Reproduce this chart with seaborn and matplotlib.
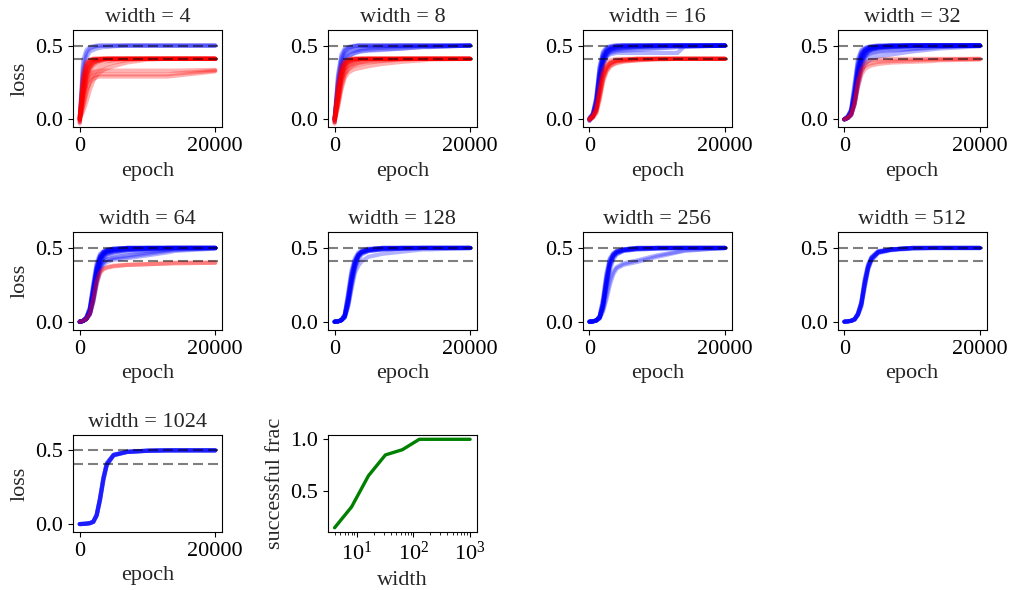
import matplotlib
matplotlib.use("Agg")
import pandas as pd
import matplotlib.pyplot as plt
import seaborn as sns

sns.set_style("ticks", rc={
    "axes.edgecolor": "black",
    "xtick.color": "black",
    "ytick.color": "black",
    "axes.linewidth": 1.0,
})
plt.rcParams["font.family"] = ["Liberation Serif", "DejaVu Serif"]
plt.rcParams["mathtext.fontset"] = "stix"
plt.rcParams["font.size"] = 16

EPOCHS = [0, 500, 1000, 1500, 2000, 2500, 3000, 3500, 4000, 5000, 7000, 10000, 13000, 14000, 20000]

WIDTHS = [4, 8, 16, 32, 64, 128, 256, 512, 1024]
SUCCESS_FRAC = [0.15, 0.35, 0.65, 0.85, 0.90, 1.0, 1.0, 1.0, 1.0]

LOSS_GOOD = 0.5
LOSS_BAD = 0.41

# width = 4
blue_4 = [
    [0.00, 0.40, 0.47, 0.49, 0.495, 0.50, 0.50, 0.50, 0.50, 0.50, 0.50, 0.50, 0.50, 0.50, 0.50],
    [-0.02, 0.35, 0.45, 0.48, 0.49, 0.495, 0.50, 0.50, 0.50, 0.50, 0.50, 0.50, 0.50, 0.50, 0.50],
    [0.01, 0.30, 0.42, 0.46, 0.47, 0.48, 0.485, 0.49, 0.49, 0.495, 0.50, 0.50, 0.50, 0.50, 0.50],
]
red_4 = [
    [0.00, 0.30, 0.39, 0.405, 0.41, 0.41, 0.41, 0.41, 0.41, 0.41, 0.41, 0.41, 0.41, 0.41, 0.41],
    [-0.01, 0.26, 0.37, 0.40, 0.41, 0.41, 0.41, 0.41, 0.41, 0.41, 0.41, 0.41, 0.41, 0.41, 0.41],
    [0.01, 0.22, 0.35, 0.39, 0.40, 0.405, 0.41, 0.41, 0.41, 0.41, 0.41, 0.41, 0.41, 0.41, 0.41],
    [0.00, 0.20, 0.32, 0.37, 0.39, 0.40, 0.405, 0.41, 0.41, 0.41, 0.41, 0.41, 0.41, 0.41, 0.41],
    [-0.03, 0.18, 0.30, 0.36, 0.385, 0.395, 0.40, 0.405, 0.41, 0.41, 0.41, 0.41, 0.41, 0.41, 0.41],
    [0.02, 0.25, 0.34, 0.38, 0.395, 0.40, 0.405, 0.41, 0.41, 0.41, 0.41, 0.41, 0.41, 0.41, 0.41],
    [0.00, 0.15, 0.28, 0.34, 0.37, 0.385, 0.395, 0.40, 0.405, 0.41, 0.41, 0.41, 0.41, 0.41, 0.41],
    [-0.02, 0.12, 0.25, 0.32, 0.355, 0.37, 0.38, 0.39, 0.395, 0.40, 0.41, 0.41, 0.41, 0.41, 0.41],
    [0.00, 0.08, 0.18, 0.26, 0.31, 0.335, 0.35, 0.36, 0.37, 0.385, 0.40, 0.41, 0.41, 0.41, 0.41],
    [0.01, 0.05, 0.12, 0.20, 0.26, 0.30, 0.32, 0.335, 0.345, 0.36, 0.385, 0.405, 0.41, 0.41, 0.41],
    [0.00, 0.10, 0.20, 0.25, 0.275, 0.285, 0.29, 0.29, 0.29, 0.29, 0.29, 0.29, 0.29, 0.295, 0.325],
    [0.01, 0.15, 0.24, 0.28, 0.295, 0.30, 0.305, 0.305, 0.305, 0.305, 0.305, 0.305, 0.305, 0.31, 0.33],
    [0.00, 0.18, 0.28, 0.31, 0.32, 0.325, 0.33, 0.33, 0.33, 0.33, 0.33, 0.33, 0.33, 0.33, 0.335],
    [0.00, 0.28, 0.38, 0.40, 0.41, 0.41, 0.41, 0.41, 0.41, 0.41, 0.41, 0.41, 0.41, 0.41, 0.41],
    [-0.01, 0.24, 0.36, 0.395, 0.405, 0.41, 0.41, 0.41, 0.41, 0.41, 0.41, 0.41, 0.41, 0.41, 0.41],
    [0.00, 0.16, 0.29, 0.35, 0.38, 0.395, 0.40, 0.405, 0.41, 0.41, 0.41, 0.41, 0.41, 0.41, 0.41],
    [0.02, 0.20, 0.31, 0.36, 0.385, 0.395, 0.40, 0.41, 0.41, 0.41, 0.41, 0.41, 0.41, 0.41, 0.41],
]

# width = 8
blue_8 = [
    [0.00, 0.30, 0.44, 0.48, 0.49, 0.495, 0.50, 0.50, 0.50, 0.50, 0.50, 0.50, 0.50, 0.50, 0.50],
    [-0.01, 0.25, 0.40, 0.46, 0.48, 0.49, 0.495, 0.50, 0.50, 0.50, 0.50, 0.50, 0.50, 0.50, 0.50],
    [0.00, 0.22, 0.38, 0.44, 0.46, 0.47, 0.475, 0.48, 0.485, 0.49, 0.495, 0.50, 0.50, 0.50, 0.50],
    [0.01, 0.20, 0.35, 0.42, 0.45, 0.46, 0.465, 0.47, 0.475, 0.48, 0.485, 0.49, 0.495, 0.495, 0.50],
    [0.00, 0.18, 0.33, 0.40, 0.43, 0.44, 0.45, 0.455, 0.46, 0.465, 0.47, 0.48, 0.49, 0.49, 0.50],
    [-0.02, 0.28, 0.42, 0.47, 0.485, 0.49, 0.495, 0.50, 0.50, 0.50, 0.50, 0.50, 0.50, 0.50, 0.50],
    [0.00, 0.15, 0.30, 0.38, 0.42, 0.44, 0.45, 0.46, 0.465, 0.47, 0.475, 0.48, 0.49, 0.49, 0.50],
]
red_8 = [
    [0.00, 0.22, 0.35, 0.39, 0.405, 0.41, 0.41, 0.41, 0.41, 0.41, 0.41, 0.41, 0.41, 0.41, 0.41],
    [-0.02, 0.18, 0.32, 0.38, 0.40, 0.405, 0.41, 0.41, 0.41, 0.41, 0.41, 0.41, 0.41, 0.41, 0.41],
    [0.00, 0.15, 0.30, 0.36, 0.39, 0.40, 0.405, 0.41, 0.41, 0.41, 0.41, 0.41, 0.41, 0.41, 0.41],
    [-0.03, 0.12, 0.27, 0.34, 0.37, 0.385, 0.395, 0.40, 0.405, 0.41, 0.41, 0.41, 0.41, 0.41, 0.41],
    [0.01, 0.20, 0.33, 0.38, 0.40, 0.41, 0.41, 0.41, 0.41, 0.41, 0.41, 0.41, 0.41, 0.41, 0.41],
    [0.00, 0.10, 0.24, 0.31, 0.34, 0.355, 0.365, 0.37, 0.375, 0.385, 0.395, 0.405, 0.41, 0.41, 0.41],
    [-0.01, 0.08, 0.20, 0.28, 0.315, 0.33, 0.34, 0.345, 0.35, 0.36, 0.375, 0.39, 0.40, 0.405, 0.41],
    [0.00, 0.14, 0.28, 0.35, 0.38, 0.39, 0.40, 0.405, 0.41, 0.41, 0.41, 0.41, 0.41, 0.41, 0.41],
    [-0.02, 0.16, 0.30, 0.36, 0.385, 0.395, 0.40, 0.405, 0.41, 0.41, 0.41, 0.41, 0.41, 0.41, 0.41],
    [0.00, 0.12, 0.26, 0.33, 0.36, 0.37, 0.38, 0.385, 0.39, 0.40, 0.405, 0.41, 0.41, 0.41, 0.41],
    [0.01, 0.24, 0.36, 0.395, 0.405, 0.41, 0.41, 0.41, 0.41, 0.41, 0.41, 0.41, 0.41, 0.41, 0.41],
    [0.00, 0.18, 0.31, 0.37, 0.39, 0.40, 0.41, 0.41, 0.41, 0.41, 0.41, 0.41, 0.41, 0.41, 0.41],
    [-0.01, 0.10, 0.22, 0.30, 0.34, 0.36, 0.37, 0.38, 0.385, 0.39, 0.40, 0.41, 0.41, 0.41, 0.41],
]

# width = 16
blue_16 = [
    [0.00, 0.03, 0.12, 0.32, 0.43, 0.47, 0.485, 0.49, 0.495, 0.50, 0.50, 0.50, 0.50, 0.50, 0.50],
    [0.00, 0.02, 0.10, 0.28, 0.40, 0.45, 0.47, 0.48, 0.485, 0.49, 0.495, 0.50, 0.50, 0.50, 0.50],
    [-0.01, 0.02, 0.08, 0.25, 0.38, 0.44, 0.46, 0.47, 0.475, 0.48, 0.49, 0.495, 0.50, 0.50, 0.50],
    [0.00, 0.03, 0.11, 0.30, 0.42, 0.46, 0.475, 0.48, 0.485, 0.49, 0.495, 0.50, 0.50, 0.50, 0.50],
    [0.00, 0.02, 0.09, 0.27, 0.39, 0.43, 0.45, 0.455, 0.46, 0.465, 0.47, 0.48, 0.49, 0.49, 0.50],
    [0.01, 0.04, 0.14, 0.35, 0.45, 0.48, 0.49, 0.495, 0.50, 0.50, 0.50, 0.50, 0.50, 0.50, 0.50],
    [0.00, 0.02, 0.07, 0.22, 0.36, 0.42, 0.44, 0.445, 0.45, 0.45, 0.45, 0.45, 0.45, 0.495, 0.50],
    [0.00, 0.03, 0.13, 0.33, 0.44, 0.475, 0.49, 0.495, 0.50, 0.50, 0.50, 0.50, 0.50, 0.50, 0.50],
    [-0.01, 0.02, 0.09, 0.26, 0.39, 0.45, 0.47, 0.48, 0.49, 0.495, 0.50, 0.50, 0.50, 0.50, 0.50],
    [0.00, 0.02, 0.08, 0.24, 0.37, 0.43, 0.455, 0.465, 0.47, 0.475, 0.48, 0.485, 0.49, 0.495, 0.50],
    [0.00, 0.03, 0.12, 0.31, 0.42, 0.46, 0.48, 0.49, 0.495, 0.50, 0.50, 0.50, 0.50, 0.50, 0.50],
    [0.01, 0.03, 0.10, 0.29, 0.41, 0.455, 0.47, 0.475, 0.48, 0.485, 0.49, 0.495, 0.50, 0.50, 0.50],
    [0.00, 0.04, 0.15, 0.36, 0.46, 0.485, 0.495, 0.50, 0.50, 0.50, 0.50, 0.50, 0.50, 0.50, 0.50],
]
red_16 = [
    [0.00, 0.02, 0.07, 0.20, 0.31, 0.36, 0.385, 0.395, 0.40, 0.405, 0.41, 0.41, 0.41, 0.41, 0.41],
    [0.00, 0.01, 0.05, 0.16, 0.28, 0.34, 0.37, 0.385, 0.395, 0.40, 0.41, 0.41, 0.41, 0.41, 0.41],
    [-0.01, 0.02, 0.06, 0.18, 0.30, 0.35, 0.38, 0.39, 0.40, 0.405, 0.41, 0.41, 0.41, 0.41, 0.41],
    [0.00, 0.01, 0.04, 0.13, 0.25, 0.32, 0.355, 0.37, 0.38, 0.39, 0.40, 0.405, 0.41, 0.41, 0.41],
    [0.00, 0.03, 0.09, 0.24, 0.34, 0.38, 0.40, 0.405, 0.41, 0.41, 0.41, 0.41, 0.41, 0.41, 0.41],
    [0.01, 0.02, 0.06, 0.17, 0.29, 0.35, 0.375, 0.39, 0.395, 0.40, 0.405, 0.41, 0.41, 0.41, 0.41],
    [0.00, 0.02, 0.05, 0.15, 0.27, 0.33, 0.36, 0.375, 0.385, 0.395, 0.40, 0.41, 0.41, 0.41, 0.41],
]

# width = 32
blue_32 = [
    [0.00, 0.01, 0.05, 0.18, 0.36, 0.44, 0.47, 0.485, 0.49, 0.495, 0.50, 0.50, 0.50, 0.50, 0.50],
    [0.00, 0.01, 0.04, 0.14, 0.30, 0.40, 0.45, 0.47, 0.48, 0.49, 0.50, 0.50, 0.50, 0.50, 0.50],
    [0.00, 0.01, 0.03, 0.10, 0.24, 0.36, 0.42, 0.455, 0.47, 0.485, 0.495, 0.50, 0.50, 0.50, 0.50],
    [0.00, 0.01, 0.06, 0.22, 0.39, 0.46, 0.48, 0.49, 0.495, 0.50, 0.50, 0.50, 0.50, 0.50, 0.50],
    [0.00, 0.01, 0.03, 0.10, 0.22, 0.32, 0.37, 0.395, 0.41, 0.425, 0.44, 0.46, 0.475, 0.48, 0.495],
    [0.00, 0.01, 0.04, 0.13, 0.28, 0.38, 0.42, 0.44, 0.45, 0.46, 0.47, 0.48, 0.49, 0.49, 0.50],
    [0.00, 0.01, 0.05, 0.16, 0.33, 0.42, 0.46, 0.475, 0.485, 0.49, 0.495, 0.50, 0.50, 0.50, 0.50],
    [0.00, 0.02, 0.06, 0.20, 0.37, 0.45, 0.475, 0.485, 0.49, 0.495, 0.50, 0.50, 0.50, 0.50, 0.50],
    [0.00, 0.01, 0.04, 0.15, 0.31, 0.41, 0.455, 0.47, 0.48, 0.49, 0.495, 0.50, 0.50, 0.50, 0.50],
    [0.00, 0.01, 0.03, 0.12, 0.27, 0.38, 0.43, 0.46, 0.475, 0.485, 0.495, 0.50, 0.50, 0.50, 0.50],
    [0.00, 0.02, 0.07, 0.24, 0.41, 0.47, 0.485, 0.49, 0.495, 0.50, 0.50, 0.50, 0.50, 0.50, 0.50],
    [0.00, 0.01, 0.05, 0.17, 0.34, 0.43, 0.465, 0.48, 0.485, 0.49, 0.495, 0.50, 0.50, 0.50, 0.50],
    [0.00, 0.01, 0.04, 0.13, 0.29, 0.39, 0.44, 0.46, 0.47, 0.48, 0.49, 0.495, 0.50, 0.50, 0.50],
    [0.00, 0.01, 0.03, 0.11, 0.25, 0.35, 0.40, 0.43, 0.44, 0.455, 0.465, 0.475, 0.485, 0.49, 0.50],
    [0.00, 0.02, 0.06, 0.19, 0.35, 0.44, 0.47, 0.485, 0.49, 0.495, 0.50, 0.50, 0.50, 0.50, 0.50],
    [0.00, 0.01, 0.05, 0.16, 0.32, 0.42, 0.46, 0.475, 0.48, 0.49, 0.495, 0.50, 0.50, 0.50, 0.50],
    [0.00, 0.01, 0.04, 0.14, 0.30, 0.40, 0.445, 0.465, 0.475, 0.485, 0.49, 0.495, 0.50, 0.50, 0.50],
]
red_32 = [
    [0.00, 0.01, 0.03, 0.10, 0.22, 0.30, 0.34, 0.355, 0.365, 0.375, 0.385, 0.39, 0.395, 0.40, 0.405],
    [0.00, 0.01, 0.04, 0.12, 0.26, 0.33, 0.36, 0.375, 0.38, 0.39, 0.395, 0.40, 0.405, 0.405, 0.41],
    [0.00, 0.01, 0.03, 0.11, 0.25, 0.34, 0.38, 0.395, 0.40, 0.405, 0.41, 0.41, 0.41, 0.41, 0.41],
]

# width = 64
blue_64 = [
    [0.00, 0.005, 0.02, 0.07, 0.20, 0.35, 0.43, 0.465, 0.48, 0.49, 0.495, 0.50, 0.50, 0.50, 0.50],
    [0.00, 0.005, 0.02, 0.06, 0.17, 0.31, 0.40, 0.45, 0.47, 0.485, 0.495, 0.50, 0.50, 0.50, 0.50],
    [0.00, 0.005, 0.03, 0.09, 0.24, 0.38, 0.45, 0.475, 0.485, 0.495, 0.50, 0.50, 0.50, 0.50, 0.50],
    [0.00, 0.005, 0.02, 0.05, 0.14, 0.27, 0.36, 0.40, 0.42, 0.43, 0.44, 0.46, 0.48, 0.485, 0.50],
    [0.00, 0.005, 0.02, 0.06, 0.16, 0.29, 0.37, 0.405, 0.42, 0.435, 0.45, 0.47, 0.485, 0.49, 0.50],
    [0.00, 0.005, 0.02, 0.05, 0.13, 0.25, 0.34, 0.385, 0.405, 0.42, 0.43, 0.45, 0.47, 0.48, 0.495],
    [0.00, 0.005, 0.03, 0.08, 0.22, 0.36, 0.44, 0.47, 0.48, 0.49, 0.50, 0.50, 0.50, 0.50, 0.50],
    [0.00, 0.005, 0.02, 0.07, 0.19, 0.33, 0.42, 0.46, 0.475, 0.49, 0.495, 0.50, 0.50, 0.50, 0.50],
    [0.00, 0.005, 0.02, 0.06, 0.18, 0.32, 0.41, 0.45, 0.47, 0.48, 0.49, 0.495, 0.50, 0.50, 0.50],
    [0.00, 0.005, 0.03, 0.10, 0.26, 0.40, 0.46, 0.48, 0.49, 0.495, 0.50, 0.50, 0.50, 0.50, 0.50],
    [0.00, 0.005, 0.02, 0.07, 0.21, 0.35, 0.43, 0.46, 0.475, 0.485, 0.49, 0.495, 0.50, 0.50, 0.50],
    [0.00, 0.005, 0.02, 0.05, 0.15, 0.28, 0.38, 0.43, 0.455, 0.47, 0.485, 0.495, 0.50, 0.50, 0.50],
    [0.00, 0.005, 0.03, 0.09, 0.23, 0.37, 0.445, 0.47, 0.485, 0.49, 0.50, 0.50, 0.50, 0.50, 0.50],
    [0.00, 0.005, 0.02, 0.06, 0.17, 0.30, 0.39, 0.44, 0.46, 0.475, 0.485, 0.49, 0.495, 0.50, 0.50],
    [0.00, 0.005, 0.02, 0.08, 0.21, 0.34, 0.42, 0.455, 0.47, 0.48, 0.49, 0.495, 0.50, 0.50, 0.50],
    [0.00, 0.005, 0.02, 0.07, 0.20, 0.34, 0.43, 0.465, 0.48, 0.49, 0.50, 0.50, 0.50, 0.50, 0.50],
    [0.00, 0.005, 0.03, 0.08, 0.22, 0.36, 0.44, 0.47, 0.485, 0.495, 0.50, 0.50, 0.50, 0.50, 0.50],
    [0.00, 0.005, 0.02, 0.06, 0.16, 0.30, 0.39, 0.43, 0.445, 0.46, 0.47, 0.48, 0.49, 0.495, 0.50],
]
red_64 = [
    [0.00, 0.005, 0.02, 0.06, 0.16, 0.28, 0.34, 0.36, 0.37, 0.38, 0.385, 0.39, 0.395, 0.40, 0.40],
    [0.00, 0.005, 0.02, 0.05, 0.14, 0.26, 0.33, 0.355, 0.365, 0.375, 0.385, 0.39, 0.395, 0.395, 0.40],
]

# width = 128
blue_128 = [
    [0.00, 0.002, 0.01, 0.04, 0.15, 0.30, 0.40, 0.45, 0.475, 0.49, 0.50, 0.50, 0.50, 0.50, 0.50],
    [0.00, 0.002, 0.01, 0.03, 0.12, 0.26, 0.37, 0.44, 0.47, 0.485, 0.495, 0.50, 0.50, 0.50, 0.50],
    [0.00, 0.002, 0.01, 0.05, 0.18, 0.33, 0.42, 0.46, 0.48, 0.49, 0.50, 0.50, 0.50, 0.50, 0.50],
    [0.00, 0.002, 0.01, 0.035, 0.14, 0.28, 0.39, 0.45, 0.47, 0.485, 0.495, 0.50, 0.50, 0.50, 0.50],
    [0.00, 0.002, 0.01, 0.045, 0.17, 0.32, 0.41, 0.455, 0.475, 0.49, 0.50, 0.50, 0.50, 0.50, 0.50],
    [0.00, 0.002, 0.01, 0.03, 0.11, 0.24, 0.35, 0.42, 0.455, 0.48, 0.49, 0.495, 0.50, 0.50, 0.50],
    [0.00, 0.002, 0.01, 0.04, 0.16, 0.31, 0.41, 0.455, 0.475, 0.49, 0.50, 0.50, 0.50, 0.50, 0.50],
    [0.00, 0.002, 0.01, 0.05, 0.20, 0.35, 0.43, 0.47, 0.485, 0.495, 0.50, 0.50, 0.50, 0.50, 0.50],
    [0.00, 0.002, 0.01, 0.03, 0.13, 0.27, 0.38, 0.44, 0.465, 0.48, 0.49, 0.495, 0.50, 0.50, 0.50],
    [0.00, 0.002, 0.01, 0.03, 0.10, 0.22, 0.33, 0.38, 0.41, 0.44, 0.46, 0.475, 0.49, 0.49, 0.50],
    [0.00, 0.002, 0.01, 0.04, 0.15, 0.29, 0.40, 0.45, 0.47, 0.485, 0.495, 0.50, 0.50, 0.50, 0.50],
    [0.00, 0.002, 0.01, 0.035, 0.13, 0.27, 0.38, 0.44, 0.465, 0.48, 0.49, 0.495, 0.50, 0.50, 0.50],
]

# width = 256
blue_256 = [
    [0.00, 0.002, 0.008, 0.03, 0.12, 0.28, 0.40, 0.45, 0.47, 0.485, 0.495, 0.50, 0.50, 0.50, 0.50],
    [0.00, 0.002, 0.008, 0.025, 0.10, 0.25, 0.38, 0.44, 0.465, 0.485, 0.495, 0.50, 0.50, 0.50, 0.50],
    [0.00, 0.002, 0.008, 0.035, 0.14, 0.31, 0.42, 0.46, 0.48, 0.49, 0.50, 0.50, 0.50, 0.50, 0.50],
    [0.00, 0.002, 0.008, 0.03, 0.11, 0.26, 0.39, 0.445, 0.47, 0.485, 0.495, 0.50, 0.50, 0.50, 0.50],
    [0.00, 0.002, 0.008, 0.04, 0.16, 0.33, 0.43, 0.465, 0.48, 0.49, 0.50, 0.50, 0.50, 0.50, 0.50],
    [0.00, 0.002, 0.008, 0.025, 0.09, 0.22, 0.35, 0.42, 0.455, 0.48, 0.49, 0.495, 0.50, 0.50, 0.50],
    [0.00, 0.002, 0.008, 0.03, 0.12, 0.27, 0.40, 0.45, 0.475, 0.49, 0.50, 0.50, 0.50, 0.50, 0.50],
    [0.00, 0.002, 0.008, 0.035, 0.13, 0.29, 0.41, 0.455, 0.475, 0.49, 0.50, 0.50, 0.50, 0.50, 0.50],
    [0.00, 0.002, 0.008, 0.02, 0.07, 0.15, 0.25, 0.32, 0.36, 0.385, 0.405, 0.44, 0.47, 0.48, 0.50],
    [0.00, 0.002, 0.008, 0.025, 0.08, 0.18, 0.28, 0.34, 0.37, 0.395, 0.415, 0.45, 0.475, 0.485, 0.50],
    [0.00, 0.002, 0.008, 0.03, 0.11, 0.25, 0.37, 0.435, 0.46, 0.48, 0.49, 0.495, 0.50, 0.50, 0.50],
    [0.00, 0.002, 0.008, 0.03, 0.12, 0.28, 0.40, 0.45, 0.47, 0.485, 0.495, 0.50, 0.50, 0.50, 0.50],
]

# width = 512
blue_512 = [
    [0.00, 0.002, 0.006, 0.015, 0.05, 0.12, 0.26, 0.37, 0.43, 0.475, 0.49, 0.50, 0.50, 0.50, 0.50],
    [0.00, 0.002, 0.006, 0.015, 0.045, 0.11, 0.24, 0.36, 0.42, 0.47, 0.49, 0.50, 0.50, 0.50, 0.50],
    [0.00, 0.002, 0.006, 0.018, 0.055, 0.13, 0.28, 0.38, 0.435, 0.475, 0.49, 0.50, 0.50, 0.50, 0.50],
    [0.00, 0.002, 0.006, 0.015, 0.05, 0.12, 0.27, 0.37, 0.43, 0.47, 0.49, 0.497, 0.50, 0.50, 0.50],
    [0.00, 0.002, 0.006, 0.016, 0.05, 0.125, 0.26, 0.375, 0.43, 0.475, 0.49, 0.50, 0.50, 0.50, 0.50],
    [0.00, 0.002, 0.006, 0.014, 0.045, 0.10, 0.23, 0.35, 0.415, 0.465, 0.485, 0.495, 0.50, 0.50, 0.50],
    [0.00, 0.002, 0.006, 0.017, 0.055, 0.135, 0.29, 0.39, 0.44, 0.48, 0.49, 0.50, 0.50, 0.50, 0.50],
    [0.00, 0.002, 0.006, 0.015, 0.05, 0.12, 0.25, 0.365, 0.425, 0.47, 0.49, 0.50, 0.50, 0.50, 0.50],
]

# width = 1024
blue_1024 = [
    [0.00, 0.001, 0.003, 0.006, 0.015, 0.06, 0.17, 0.31, 0.41, 0.47, 0.49, 0.497, 0.50, 0.50, 0.50],
    [0.00, 0.001, 0.003, 0.006, 0.014, 0.055, 0.16, 0.30, 0.40, 0.465, 0.49, 0.497, 0.50, 0.50, 0.50],
    [0.00, 0.001, 0.003, 0.007, 0.016, 0.065, 0.18, 0.32, 0.415, 0.47, 0.49, 0.498, 0.50, 0.50, 0.50],
    [0.00, 0.001, 0.003, 0.006, 0.015, 0.06, 0.17, 0.305, 0.405, 0.468, 0.49, 0.497, 0.50, 0.50, 0.50],
    [0.00, 0.001, 0.003, 0.006, 0.015, 0.058, 0.165, 0.30, 0.40, 0.466, 0.489, 0.497, 0.50, 0.50, 0.50],
    [0.00, 0.001, 0.003, 0.007, 0.016, 0.062, 0.175, 0.315, 0.41, 0.47, 0.49, 0.498, 0.50, 0.50, 0.50],
]

RUNS = {
    4: (blue_4, red_4),
    8: (blue_8, red_8),
    16: (blue_16, red_16),
    32: (blue_32, red_32),
    64: (blue_64, red_64),
    128: (blue_128, []),
    256: (blue_256, []),
    512: (blue_512, []),
    1024: (blue_1024, []),
}


def runs_frame(blue, red):
    rows = []
    for tag, group in (("success", blue), ("fail", red)):
        for i, curve in enumerate(group):
            for e, v in zip(EPOCHS, curve):
                rows.append({"epoch": e, "loss": v, "run": f"{tag}{i}", "outcome": tag})
    return pd.DataFrame(rows)


fig, axes = plt.subplots(3, 4, figsize=(10.13, 5.9), dpi=100)
fig.subplots_adjust(left=0.072, right=0.974, top=0.949, bottom=0.098,
                    wspace=0.71, hspace=1.08)
axes = axes.ravel()

for k, w in enumerate(WIDTHS):
    ax = axes[k]
    blue, red = RUNS[w]
    df = runs_frame(blue, red)
    sns.lineplot(data=df, x="epoch", y="loss", hue="outcome",
                 hue_order=["success", "fail"],
                 palette={"success": "blue", "fail": "red"},
                 units="run", estimator=None, alpha=0.3, lw=3.0,
                 legend=False, ax=ax)
    for lvl in (LOSS_GOOD, LOSS_BAD):
        ax.axhline(lvl, color="black", alpha=0.5, lw=1.5, ls=(0, (4.8, 2.4)))
    ax.set_ylim(-0.055, 0.605)
    ax.set_xticks([0, 20000])
    ax.set_yticks([0.0, 0.5])
    ax.set_title(f"width = {w}", fontsize=16)
    ax.set_xlabel("epoch", fontsize=16)
    ax.set_ylabel("loss" if k % 4 == 0 else "", fontsize=16)
    ax.tick_params(labelsize=16)

ax = axes[9]
sns.lineplot(x=WIDTHS, y=SUCCESS_FRAC, color="green", lw=2.4, ax=ax)
ax.set_xscale("log")
ax.set_yticks([0.5, 1.0])
ax.set_xlabel("width", fontsize=16)
ax.set_ylabel("successful frac", fontsize=16)
ax.tick_params(labelsize=16)

for ax in axes[10:]:
    ax.remove()

fig.savefig("out.png", dpi=100)
